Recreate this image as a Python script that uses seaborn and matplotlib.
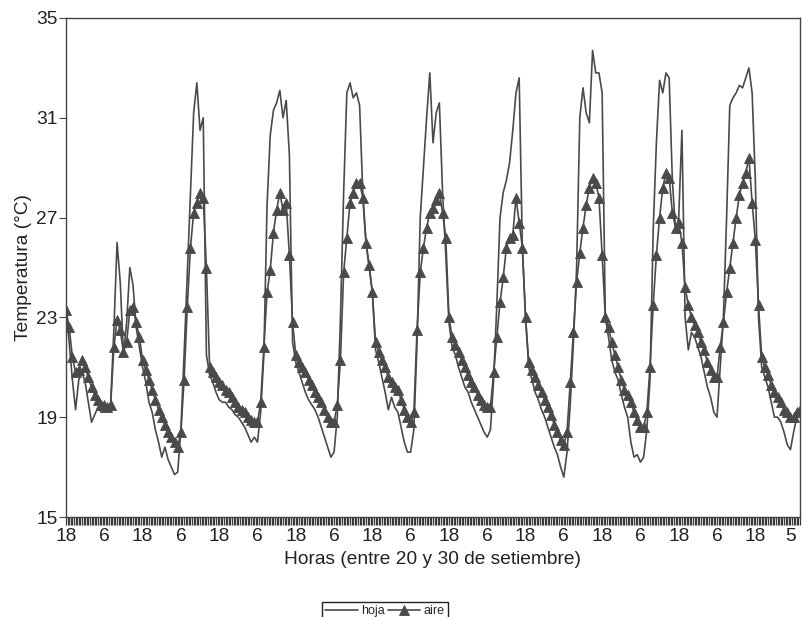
import matplotlib
matplotlib.use("Agg")
import matplotlib.pyplot as plt
from matplotlib.ticker import MultipleLocator
import numpy as np
import pandas as pd
import seaborn as sns

sns.set_theme(style="ticks")
plt.rcParams['font.family'] = ['Liberation Sans', 'DejaVu Sans']

# horas desde las 18:00 del 20 de setiembre
horas = np.arange(0, 231)

aire = [
    23.3, 22.6, 21.4, 20.8, 20.9, 21.3, 21.0, 20.6, 20.2, 19.9, 19.7, 19.5,
    19.5, 19.4, 19.5, 21.8, 22.9, 22.5, 21.6, 22.0, 23.3, 23.4, 22.8, 22.2,
    21.3, 20.9, 20.5, 20.1, 19.7, 19.3, 19.0, 18.7, 18.4, 18.2, 18.0, 17.8,
    18.4, 20.5, 23.4, 25.8, 27.2, 27.6, 28.0, 27.8, 25.0, 21.0, 20.8, 20.6,
    20.4, 20.3, 20.1, 20.0, 19.8, 19.6, 19.4, 19.3, 19.2, 19.0, 18.9, 18.8,
    18.8, 19.6, 21.8, 24.0, 24.9, 26.4, 27.3, 28.0, 27.3, 27.6, 25.5, 22.8,
    21.5, 21.2, 21.0, 20.8, 20.5, 20.3, 20.0, 19.8, 19.6, 19.3, 19.0, 18.8,
    18.8, 19.5, 21.3, 24.8, 26.2, 27.6, 28.0, 28.4, 28.4, 27.8, 26.0, 25.1,
    24.0, 22.0, 21.6, 21.3, 21.0, 20.6, 20.4, 20.2, 20.1, 19.7, 19.3, 19.0,
    18.8, 19.2, 22.5, 24.8, 25.8, 26.6, 27.2, 27.4, 27.7, 28.0, 27.2, 26.2,
    23.0, 22.2, 21.9, 21.6, 21.3, 21.0, 20.7, 20.4, 20.2, 19.9, 19.7, 19.5,
    19.4, 19.4, 20.8, 22.2, 23.6, 24.6, 25.8, 26.2, 26.3, 27.8, 26.8, 25.8,
    23.0, 21.2, 20.9, 20.6, 20.3, 20.0, 19.7, 19.4, 19.1, 18.7, 18.4, 18.1,
    17.9, 18.4, 20.4, 22.4, 24.4, 25.6, 26.6, 27.5, 28.2, 28.6, 28.4, 27.8,
    25.5, 23.0, 22.6, 22.0, 21.5, 21.0, 20.5, 20.1, 19.9, 19.6, 19.2, 18.9,
    18.6, 18.6, 19.2, 21.0, 23.5, 25.5, 27.0, 28.2, 28.8, 28.6, 27.2, 26.6,
    26.8, 26.0, 24.2, 23.5, 23.0, 22.7, 22.4, 22.0, 21.7, 21.2, 20.9, 20.6,
    20.6, 21.8, 22.8, 24.0, 25.0, 26.0, 27.0, 27.9, 28.4, 28.8, 29.4, 27.6,
    26.1, 23.5, 21.4, 21.0, 20.7, 20.3, 20.0, 19.8, 19.6, 19.3, 19.2, 19.0,
    19.0, 19.2, 19.3,
]

hoja = [
    23.4, 22.0, 20.5, 19.3, 20.5, 20.8, 20.4, 19.6, 18.8, 19.1, 19.4, 19.2,
    19.2, 19.3, 19.6, 22.5, 26.0, 24.4, 21.5, 22.8, 25.0, 24.3, 22.6, 21.8,
    21.0, 20.4, 19.6, 19.2, 18.5, 18.0, 17.4, 17.8, 17.3, 17.0, 16.7, 16.8,
    18.5, 21.5, 24.7, 28.0, 31.2, 32.4, 30.5, 31.0, 21.5, 20.7, 20.4, 20.0,
    19.7, 19.6, 19.6, 19.4, 19.3, 19.1, 19.0, 18.8, 18.6, 18.3, 18.0, 18.2,
    18.0, 19.2, 21.5, 27.5, 30.3, 31.3, 31.6, 32.1, 31.0, 31.7, 29.5, 22.0,
    21.2, 20.8, 20.4, 20.0, 19.7, 19.5, 19.3, 19.0, 18.6, 18.2, 17.8, 17.4,
    17.6, 19.0, 23.0, 28.0, 32.0, 32.4, 31.8, 32.0, 31.5, 28.0, 26.0, 25.0,
    24.0, 21.7, 21.2, 20.6, 20.0, 19.3, 19.8, 19.4, 19.2, 18.6, 18.0, 17.6,
    17.6, 18.5, 22.0, 27.0, 29.0, 31.0, 32.8, 30.0, 31.2, 31.6, 28.0, 25.5,
    22.8, 21.8, 21.5, 21.0, 20.6, 20.2, 20.0, 19.6, 19.3, 19.0, 18.7, 18.4,
    18.2, 18.5, 20.5, 23.5, 27.0, 28.0, 28.5, 29.2, 30.5, 32.0, 32.6, 25.8,
    23.0, 21.0, 20.5, 20.0, 19.7, 19.3, 19.0, 18.6, 18.2, 17.8, 17.5, 17.0,
    16.6, 17.6, 19.5, 22.0, 25.0, 31.0, 32.2, 31.2, 30.8, 33.7, 32.8, 32.8,
    32.0, 23.0, 22.2, 21.3, 20.8, 20.5, 19.9, 19.4, 19.0, 18.0, 17.4, 17.5,
    17.2, 17.4, 18.5, 20.5, 26.5, 30.0, 32.5, 32.0, 32.8, 32.6, 28.5, 26.5,
    27.0, 30.5, 23.0, 21.7, 22.4, 22.2, 21.8, 21.4, 20.8, 20.2, 19.8, 19.2,
    19.0, 21.0, 23.0, 27.0, 31.5, 31.8, 32.0, 32.3, 32.2, 32.6, 33.0, 32.0,
    28.5, 23.0, 21.0, 20.6, 20.2, 19.6, 19.0, 19.0, 18.8, 18.4, 17.9, 17.7,
    18.4, 19.0, 19.3,
]

tick_pos = list(range(0, 217, 12)) + [227]
tick_lab = ["18" if i % 2 == 0 else "6" for i in range(19)] + ["5"]

df = pd.DataFrame({"hora": horas, "hoja": hoja, "aire": aire})

gris = "#4a4a4a"
fig = plt.figure(figsize=(8.03, 6.17), dpi=100)
ax = fig.add_axes([66 / 803, 100 / 617, 734 / 803, 499 / 617])

sns.lineplot(data=df, x="hora", y="hoja", ax=ax, color=gris, lw=1.2, label="hoja")
sns.lineplot(data=df, x="hora", y="aire", ax=ax, color=gris, lw=1.2, marker="^",
             markersize=7, markeredgecolor=gris, markeredgewidth=0.6, label="aire")

ax.set_xlim(0, 230)
ax.set_ylim(15, 35)
ax.set_yticks([15, 19, 23, 27, 31, 35])
ax.set_xticks(tick_pos)
ax.set_xticklabels(tick_lab)
ax.xaxis.set_minor_locator(MultipleLocator(0.5))
ax.tick_params(axis="x", which="both", length=6, width=0.9, color="#3a3a3a",
               labelsize=13.8, labelcolor="#222222", pad=2)
ax.tick_params(axis="y", length=5, width=0.8, color="#444444",
               labelsize=13.8, labelcolor="#222222", pad=1)

for s in ax.spines.values():
    s.set_color("#444444")
    s.set_linewidth(1.0)

ax.set_xlabel("Horas (entre 20 y 30 de setiembre)", fontsize=13.8, color="#222222", labelpad=4)
ax.set_ylabel("Temperatura (°C)", fontsize=13.8, color="#222222", labelpad=3)

ax.get_legend().remove()
h, l = ax.get_legend_handles_labels()
fig.legend(h, l, loc="upper center", bbox_to_anchor=(385 / 803, 1 - 596 / 617), ncol=2,
           frameon=True, fancybox=False, edgecolor="#222222", framealpha=1, fontsize=9,
           handlelength=2.6, handletextpad=0.3, columnspacing=0.2, borderpad=0.25)

fig.savefig("out.png", dpi=100)
